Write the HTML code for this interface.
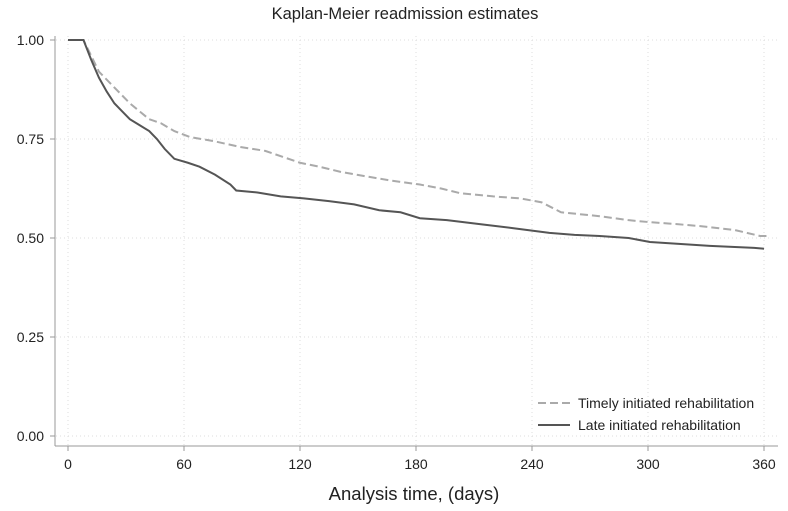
<!DOCTYPE html>
<html><head><meta charset="utf-8"><style>
body{margin:0;background:#fff;}
svg{display:block;font-family:"Liberation Sans",Arial,sans-serif;}
</style></head><body>
<svg width="788" height="511" viewBox="0 0 788 511">
<text x="405" y="19" font-size="16.5" text-anchor="middle" fill="#222">Kaplan-Meier readmission estimates</text>
<g id="grid"></g>
<g id="axes"></g>
<g id="series"></g>
<text x="414" y="500" font-size="18.5" text-anchor="middle" fill="#222">Analysis time, (days)</text>
<g>
<g>
<line x1="538" y1="403" x2="570" y2="403" stroke="#aaa" stroke-width="2" stroke-dasharray="8,4"/>
<text x="578" y="408" font-size="14" fill="#222">Timely initiated rehabilitation</text></g>
<g>
<line x1="538" y1="425" x2="570" y2="425" stroke="#555" stroke-width="2"/>
<text x="578" y="430" font-size="14" fill="#222">Late initiated rehabilitation</text></g>
</g>
</svg>
<script>
const xTicks=[0,60,120,180,240,300,360];
const yTicks=[0,0.25,0.5,0.75,1.0];
const yTickLabels=["0.00","0.25","0.50","0.75","1.00"];
const lateDays=[0,8,12,16,20,24,28,32,37,42,46,50,55,62,68,76,84,87,98,110,122,135,148,161,172,182,196,213,230,249,262,275,290,301,332,355,360];
const lateSurv=[1,1,0.95,0.905,0.87,0.84,0.82,0.80,0.785,0.77,0.75,0.725,0.70,0.69,0.68,0.66,0.635,0.62,0.615,0.605,0.60,0.593,0.585,0.57,0.565,0.55,0.545,0.535,0.525,0.513,0.508,0.505,0.50,0.49,0.48,0.475,0.473];
const timelyDays=[0,8,12,16,22,27,32,37,42,48,55,63,75,89,102,111,120,130,141,155,167,182,193,203,220,234,245,255,275,290,301,315,327,345,358,362];
const timelySurv=[1,1,0.96,0.92,0.89,0.865,0.84,0.82,0.80,0.79,0.77,0.755,0.745,0.73,0.72,0.705,0.69,0.68,0.667,0.655,0.645,0.635,0.625,0.613,0.605,0.60,0.59,0.565,0.555,0.545,0.54,0.535,0.53,0.52,0.505,0.505];
const X=d=>68+d*116/60, Y=v=>436-v*396;
const NS="http://www.w3.org/2000/svg";
function mk(t,a,p){const e=document.createElementNS(NS,t);for(const k in a)e.setAttribute(k,a[k]);p.appendChild(e);return e;}
const grid=document.getElementById('grid'),axes=document.getElementById('axes'),ser=document.getElementById('series');
xTicks.forEach(t=>{
 const g=mk('line',{x1:X(t),x2:X(t),y1:36,y2:446,stroke:'#ddd','stroke-dasharray':'1,3'},grid);
 
 
 mk('line',{x1:X(t),x2:X(t),y1:446,y2:451,stroke:'#999'},axes);
 const l=mk('text',{x:X(t),y:469,'font-size':14,'text-anchor':'middle',fill:'#222'},axes);l.textContent=t;
 
 
});
yTicks.forEach((t,i)=>{
 const g=mk('line',{x1:56,x2:778,y1:Y(t),y2:Y(t),stroke:'#ddd','stroke-dasharray':'1,3'},grid);
 
 
 mk('line',{x1:50,x2:55,y1:Y(t),y2:Y(t),stroke:'#999'},axes);
 const l=mk('text',{x:44,y:Y(t)+5,'font-size':14,'text-anchor':'end',fill:'#222'},axes);l.textContent=yTickLabels[i];
 
 
});
mk('line',{x1:55,x2:55,y1:36,y2:446,stroke:'#999'},axes);
mk('line',{x1:55,x2:778,y1:446,y2:446,stroke:'#999'},axes);
function path(ds,vs){let d='M'+X(ds[0])+','+Y(vs[0]);for(let i=1;i<ds.length;i++){d+=' L'+X(ds[i])+','+Y(vs[i]);}return d;}
const pt=mk('path',{d:path(timelyDays,timelySurv),fill:'none',stroke:'#aaa','stroke-width':2,'stroke-dasharray':'8,4'},ser);


const pl=mk('path',{d:path(lateDays,lateSurv),fill:'none',stroke:'#555','stroke-width':2},ser);


</script>
</body></html>
